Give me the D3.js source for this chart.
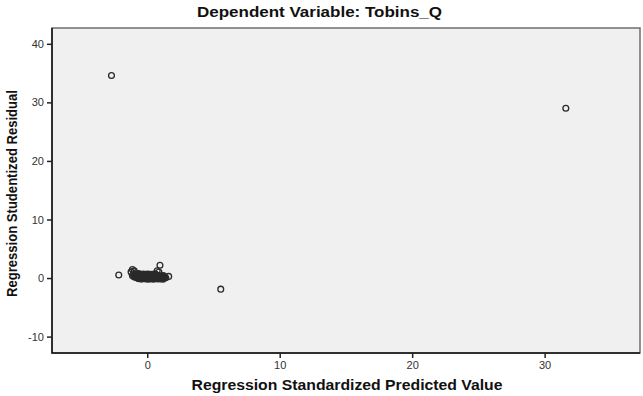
<!DOCTYPE html>
<html lang="en">
<head>
    <meta charset="UTF-8">
    <script src="https://d3js.org/d3.v7.min.js"></script>
    <title>Scatterplot</title>
    <style>
        body { margin: 0; background: #fff; }
        text { font-family: 'Liberation Sans', Arial, sans-serif; }
    </style>
</head>
<body>
    <div id="app"></div>
    <script>
        const svg_width = 643;
        const svg_height = 396;
        const plot_left = 52, plot_right = 640, plot_top = 28, plot_bottom = 353;

        // tick labels
        const x_ticks = [0, 10, 20, 30];
        const y_ticks = [-10, 0, 10, 20, 30, 40];

        // far points (predicted value, studentized residual)
        const outliers = [[-2.7, 34.6], [31.6, 29.0], [5.55, -1.9], [-2.15, 0.52]];

        // points above the main cluster
        const cluster_top = [[-1.12, 1.45], [-0.98, 1.22], [-1.22, 1.05], [0.96, 2.18],
            [0.88, 1.02], [0.75, 1.25], [1.62, 0.28]];

        // main cluster around 0
        const cluster = [
            [-1.02, 0.72], [-0.85, 0.68], [-0.66, 0.75], [-0.48, 0.66], [-0.30, 0.70],
            [-0.12, 0.64], [0.05, 0.69], [0.24, 0.62], [0.42, 0.66], [0.60, 0.71],
            [-0.93, 0.56], [-0.75, 0.52], [-0.57, 0.58], [-0.39, 0.50], [-0.21, 0.55],
            [-0.03, 0.53], [0.15, 0.57], [0.33, 0.51], [0.51, 0.55], [0.69, 0.52],
            [-1.12, 0.42], [-0.94, 0.38], [-0.76, 0.45], [-0.58, 0.36], [-0.40, 0.41],
            [-0.22, 0.35], [-0.04, 0.40], [0.14, 0.37], [0.32, 0.43], [0.50, 0.34],
            [0.68, 0.39], [0.86, 0.44], [1.04, 0.36], [1.22, 0.41],
            [-1.03, 0.26], [-0.85, 0.22], [-0.67, 0.28], [-0.49, 0.21], [-0.31, 0.25],
            [-0.13, 0.23], [0.05, 0.27], [0.23, 0.20], [0.41, 0.24], [0.59, 0.22],
            [0.77, 0.26], [0.95, 0.21], [1.13, 0.25], [1.31, 0.23],
            [-0.92, 0.12], [-0.74, 0.08], [-0.56, 0.14], [-0.38, 0.06], [-0.20, 0.11],
            [-0.02, 0.04], [0.16, 0.09], [0.34, 0.02], [0.52, 0.10], [0.70, 0.05],
            [0.88, 0.12], [1.06, 0.07], [1.24, 0.13], [1.40, 0.06],
            [-0.71, -0.02], [-0.53, -0.05], [-0.35, 0.01], [-0.17, -0.04], [0.01, -0.01],
            [0.19, -0.06], [0.37, -0.02], [0.55, -0.04], [0.73, 0.00], [0.91, -0.05],
            [1.09, -0.01], [1.27, -0.03],
            [-0.62, -0.12], [-0.44, -0.18], [-0.26, -0.10], [-0.08, -0.16], [0.10, -0.20],
            [0.28, -0.13], [0.46, -0.19], [0.64, -0.11], [0.82, -0.17], [1.00, -0.14],
            [1.18, -0.20]
        ];

        var svg = d3.select('#app')
            .append('svg')
            .attr('width', svg_width)
            .attr('height', svg_height)

        var x_scale = d3.scaleLinear()
            .domain([-7.19, 37.2])
            .range([plot_left, plot_right])
        var y_scale = d3.scaleLinear()
            .domain([-12.8, 42.7])
            .range([plot_bottom, plot_top])

        // plot background + frame
        svg.append('rect')
            .attr('x', plot_left).attr('y', plot_top)
            .attr('width', plot_right - plot_left)
            .attr('height', plot_bottom - plot_top)
            .attr('fill', '#f0f0f0')
            .attr('stroke', '#6e6e6e')
            .attr('stroke-width', 1.5)
        svg.append('path')
            .attr('d', `M${plot_left},${plot_top}V${plot_bottom}H${plot_right}`)
            .attr('fill', 'none')
            .attr('stroke', '#111')
            .attr('stroke-width', 1.5)

        var x_axis = svg.append('g')
            .attr('transform', `translate(0,${plot_bottom})`)
            .call(d3.axisBottom(x_scale).tickValues(x_ticks).tickSize(5).tickPadding(3))
        var y_axis = svg.append('g')
            .attr('transform', `translate(${plot_left},0)`)
            .call(d3.axisLeft(y_scale).tickValues(y_ticks).tickSize(5).tickPadding(3))

        svg.selectAll('.domain').remove()
        svg.selectAll('.tick line').attr('stroke', '#222').attr('stroke-width', 1.5)
        svg.selectAll('.tick text')
            .attr('fill', '#333')
            .style('font-size', '11px')
            .text(function (d) { return d < 0 ? '-' + Math.abs(d) : d })

        // points
        var all_points = outliers.concat(cluster_top, cluster)
        svg.append('g')
            .selectAll('circle')
            .data(all_points)
            .enter()
            .append('circle')
            .attr('cx', function (d) { return x_scale(d[0]) })
            .attr('cy', function (d) { return y_scale(d[1]) })
            .attr('r', 2.9)
            .attr('fill', 'none')
            .attr('stroke', '#2a2a2a')
            .attr('stroke-width', 1.3)

        // titles
        svg.append('text')
            .text('Dependent Variable: Tobins_Q')
            .attr('x', 319.5).attr('y', 17)
            .attr('text-anchor', 'middle')
            .attr('textLength', 245).attr('lengthAdjust', 'spacingAndGlyphs')
            .style('font-size', '14px').style('font-weight', 'bold').attr('fill', '#111')

        svg.append('text')
            .text('Regression Standardized Predicted Value')
            .attr('x', 347).attr('y', 390)
            .attr('text-anchor', 'middle')
            .attr('textLength', 311).attr('lengthAdjust', 'spacingAndGlyphs')
            .style('font-size', '14px').style('font-weight', 'bold').attr('fill', '#111')

        svg.append('text')
            .text('Regression Studentized Residual')
            .attr('transform', 'translate(17,193.5) rotate(-90)')
            .attr('text-anchor', 'middle')
            .attr('textLength', 207).attr('lengthAdjust', 'spacingAndGlyphs')
            .style('font-size', '14px').style('font-weight', 'bold').attr('fill', '#111')
    </script>
</body>
</html>
